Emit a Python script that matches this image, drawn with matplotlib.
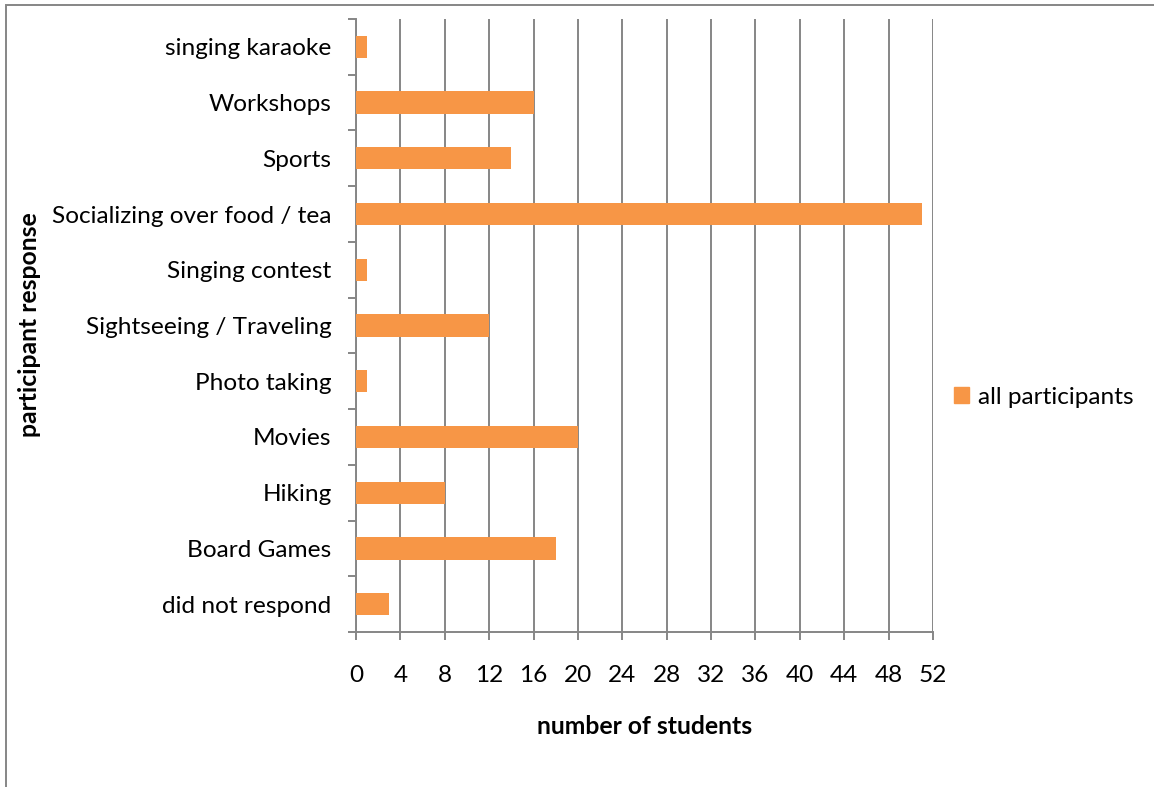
import matplotlib.pyplot as plt
from matplotlib.patches import Rectangle, Patch

# Survey responses (listed bottom to top, as drawn)
categories = ["did not respond", "Board Games", "Hiking", "Movies", "Photo taking",
              "Sightseeing / Traveling", "Singing contest", "Socializing over food / tea",
              "Sports", "Workshops", "singing karaoke"]
counts = [3, 18, 8, 20, 1, 12, 1, 51, 14, 16, 1]
x_ticks = list(range(0, 53, 4))

orange = "#F79646"
gray = "#868686"

plt.rcParams['font.family'] = ['Lato', 'DejaVu Sans']

fig = plt.figure(figsize=(11.54, 7.87), dpi=100)
ax = fig.add_axes([356 / 1154, 1 - 632 / 787, (933 - 356) / 1154, (632 - 19) / 787])

ypos = list(range(len(categories)))
ax.barh(ypos, counts, height=0.4, color=orange, zorder=3, label="all participants")

ax.set_xlim(0, 52)
ax.set_ylim(-0.5, len(categories) - 0.5)
ax.set_xticks(x_ticks)
ax.set_yticks(ypos)
ax.set_yticklabels(categories)
ax.set_yticks([i - 0.5 for i in range(len(categories) + 1)], minor=True)

ax.tick_params(axis='y', which='major', length=0, pad=17.5, labelsize=17.6)
ax.tick_params(axis='y', which='minor', length=6, width=1.4, color=gray, direction='out')
ax.tick_params(axis='x', length=6, width=1.4, color=gray, direction='out', pad=18, labelsize=17.6)

ax.grid(axis='x', color=gray, linewidth=1.4, zorder=0)
ax.set_axisbelow(True)
for s in ['top', 'right']:
    ax.spines[s].set_visible(False)
for s in ['left', 'bottom']:
    ax.spines[s].set_color(gray)
    ax.spines[s].set_linewidth(1.4)

fig.text(30 / 1154, 1 - 325 / 787, "participant response", rotation=90, fontsize=17.8,
         fontweight='bold', ha='center', va='center')
fig.text(645 / 1154, 1 - 727 / 787, "number of students", fontsize=17.8,
         fontweight='bold', ha='center', va='center')

ax.legend(handles=[Patch(color=orange, label="all participants")], loc='center left',
          bbox_to_anchor=(932 / 1154, 1 - 397 / 787), bbox_transform=fig.transFigure,
          frameon=False, fontsize=17.6, handlelength=0.6, handleheight=0.6, handletextpad=0.4)

# outer chart border, cropped at the right and bottom edges
fig.patches.append(Rectangle((6 / 1154, -0.1), 1.2, 1.1 - 5 / 787, transform=fig.transFigure,
                             fill=False, edgecolor=gray, linewidth=1.4))

fig.savefig("out.png", dpi=100)
